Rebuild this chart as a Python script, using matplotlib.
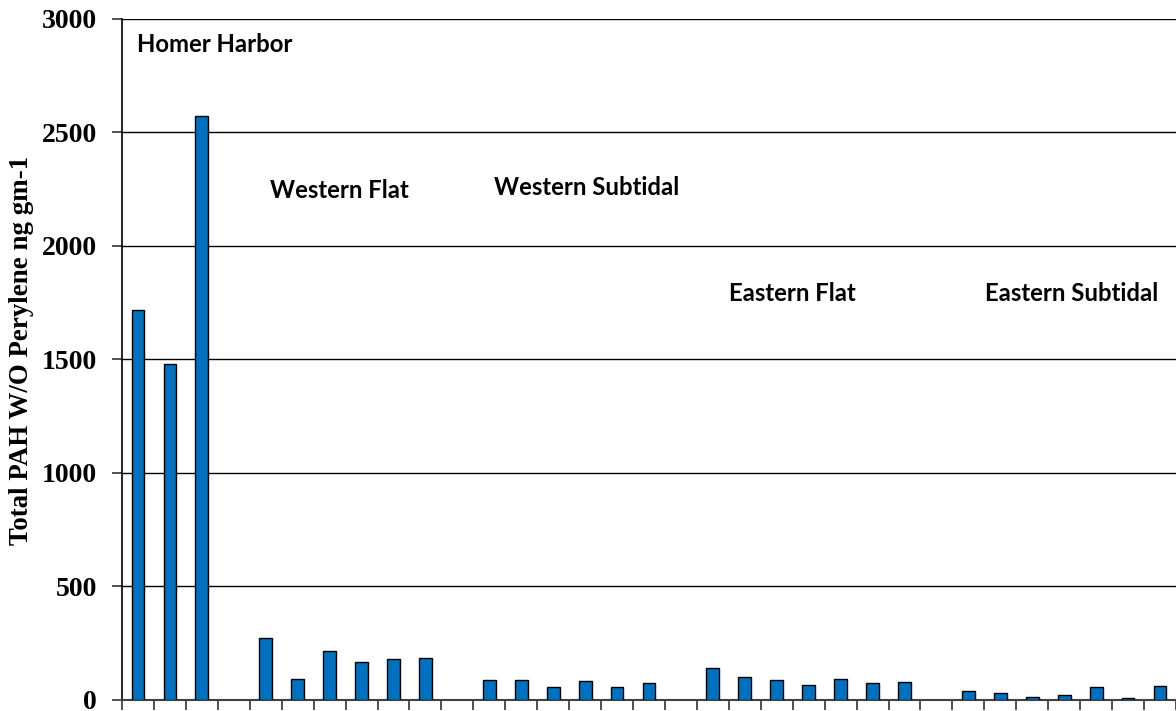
import matplotlib
matplotlib.use("Agg")
import matplotlib.pyplot as plt
import numpy as np

# ---- data ----
group_names = ["Homer Harbor", "Western Flat", "Western Subtidal", "Eastern Flat", "Eastern Subtidal"]
homer_harbor = [1715, 1480, 2572]
western_flat = [269, 91, 214, 166, 178, 183]
western_subtidal = [85, 85, 54, 81, 54, 73]
eastern_flat = [141, 97, 85, 66, 91, 73, 79]
eastern_subtidal = [37, 29, 12, 22, 54, 6, 60]
groups = [homer_harbor, western_flat, western_subtidal, eastern_flat, eastern_subtidal]

y_ticks = [0, 500, 1000, 1500, 2000, 2500, 3000]
y_label = "Total PAH W/O Perylene ng gm-1"

# label anchors (category-unit x, data y)
label_x = [-0.03, 4.13, 11.15, 18.5, 26.52]
label_y = [2886, 2246, 2255, 1792, 1792]

# ---- build category positions: one empty category between groups ----
xs, vals = [], []
pos = 0
for g in groups:
    for v in g:
        xs.append(pos)
        vals.append(v)
        pos += 1
    pos += 1
n_cat = pos - 1  # 33

fig = plt.figure(figsize=(11.76, 7.11), dpi=100)
ax = fig.add_axes([122 / 1176, 11.5 / 711, 1 - 122 / 1176, (699.5 - 19) / 711])

ax.bar(xs, vals, width=0.4, color="#0070C0", edgecolor="black", linewidth=1.0, zorder=3)

ax.set_xlim(-0.5, n_cat - 0.5)
ax.set_ylim(0, 3000)
ax.set_yticks(y_ticks)
ax.set_yticklabels([str(t) for t in y_ticks], fontfamily="Liberation Serif",
                   fontweight="bold", fontsize=20)
ax.yaxis.grid(True, color="black", linewidth=1.0, zorder=0)
ax.set_axisbelow(True)

ax.set_xticks(np.arange(0, n_cat + 1) - 0.5)
ax.set_xticklabels([])
ax.tick_params(axis="x", direction="out", length=7, width=1.2, color="#333333")
ax.tick_params(axis="y", direction="out", length=7, width=1.2, color="#333333", pad=11)

for side in ["top", "right"]:
    ax.spines[side].set_visible(False)
ax.spines["left"].set_color("black")
ax.spines["left"].set_linewidth(1.2)
ax.spines["bottom"].set_color("#404040")
ax.spines["bottom"].set_linewidth(1.5)

ax.set_ylabel(y_label, fontfamily="Liberation Serif", fontweight="bold", fontsize=19.4)
ax.yaxis.set_label_coords((34 - 122) / 1054, (699.5 - 350) / 680.5)

for name, lx, ly in zip(group_names, label_x, label_y):
    ax.text(lx, ly, name, fontfamily="Lato", fontweight="bold", fontsize=17.2,
            ha="left", va="center", color="black")

fig.savefig("out.png", dpi=100)
